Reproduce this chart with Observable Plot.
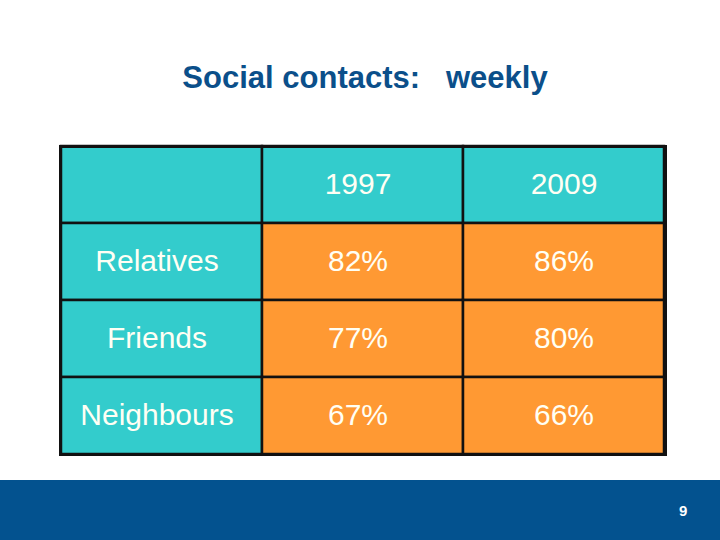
<!DOCTYPE html>
<html>
<head>
<meta charset="utf-8">
<script src="https://cdn.jsdelivr.net/npm/d3@7"></script>
<script src="https://cdn.jsdelivr.net/npm/@observablehq/plot@0.6"></script>
<style>
  html, body { margin: 0; padding: 0; background: #fff; }
  #wrap { position: relative; width: 720px; height: 540px; overflow: hidden; font-family: "Liberation Sans", Arial, sans-serif; }
  #title { position: absolute; left: 0; width: 730px; top: 60px; text-align: center; color: #0B4F8A; font-size: 31px; font-weight: bold; white-space: pre; }
  #footer { position: absolute; left: 0; top: 480px; width: 720px; height: 60px; background: #03528F; }
  #page { position: absolute; left: 679px; top: 502px; color: #fff; font-size: 15px; font-weight: bold; }
  #chart { position: absolute; left: 0; top: 0; }
</style>
</head>
<body>
<div id="wrap">
  <div id="title">Social contacts:   weekly</div>
  <div id="footer"></div>
  <div id="page">9</div>
  <div id="chart"></div>
</div>
<script>
const categories = ["Relatives", "Friends", "Neighbours"];
const years = ["1997", "2009"];
const values1997 = [82, 77, 67];
const values2009 = [86, 80, 66];

const columns = ["label", ...years];
const rowsDomain = ["header", ...categories];

const cells = [];
cells.push({col: "label", row: "header", text: "", kind: "head"});
years.forEach(y => cells.push({col: y, row: "header", text: y, kind: "head"}));
categories.forEach((c, i) => {
  cells.push({col: "label", row: c, text: c, kind: "head"});
  cells.push({col: "1997", row: c, text: values1997[i] + "%", kind: "data"});
  cells.push({col: "2009", row: c, text: values2009[i] + "%", kind: "data"});
});

const textStyle = {x: "col", y: "row", text: "text", fill: "#FFFFF4", fontSize: 30, dy: -1};

const chart = Plot.plot({
  width: 720,
  height: 540,
  marginLeft: 60,
  marginRight: 55,
  marginTop: 146,
  marginBottom: 86,
  x: {type: "band", domain: columns, padding: 0, axis: null},
  y: {type: "band", domain: rowsDomain, padding: 0, axis: null},
  color: {domain: ["head", "data"], range: ["#33CCCC", "#FF9933"]},
  style: {fontFamily: "'Liberation Sans', Arial, sans-serif", background: "transparent"},
  marks: [
    Plot.cell(cells, {x: "col", y: "row", fill: "kind", stroke: "#111", strokeWidth: 2.5}),
    Plot.text(cells.filter(d => d.col !== "2009"), {...textStyle, dx: -5}),
    Plot.text(cells.filter(d => d.col === "2009"), {...textStyle, dx: 0}),
    Plot.frame({stroke: "#111", strokeWidth: 3})
  ]
});
document.getElementById("chart").appendChild(chart);
</script>
</body>
</html>
